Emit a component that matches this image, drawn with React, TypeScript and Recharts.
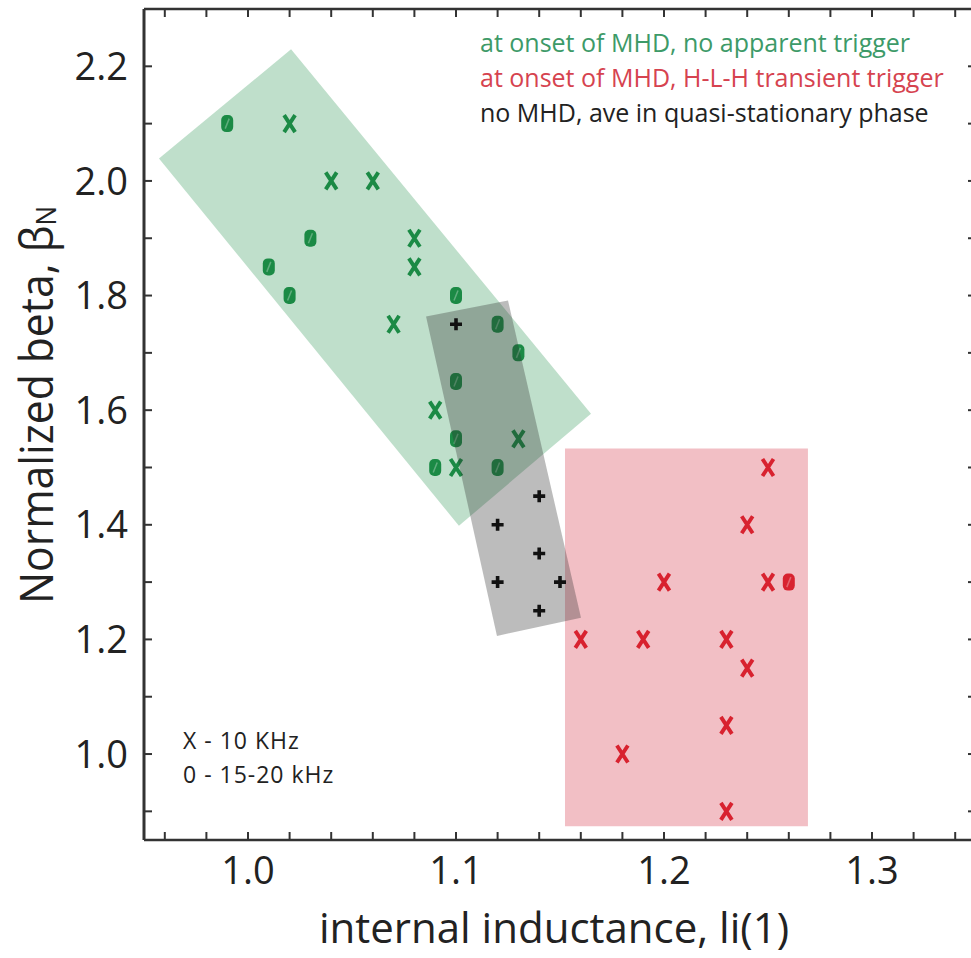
import React from 'react';
import { ScatterChart, Scatter, XAxis, YAxis } from 'recharts';

const FONT = '"Open Sans", "Noto Sans", sans-serif';

// ---- data ----
const greenX = [
  { x: 1.02, y: 2.1 }, { x: 1.04, y: 2.0 }, { x: 1.06, y: 2.0 }, { x: 1.08, y: 1.9 },
  { x: 1.08, y: 1.85 }, { x: 1.07, y: 1.75 }, { x: 1.09, y: 1.6 }, { x: 1.13, y: 1.55 },
  { x: 1.10, y: 1.5 },
];
const greenO = [
  { x: 0.99, y: 2.1 }, { x: 1.03, y: 1.9 }, { x: 1.01, y: 1.85 }, { x: 1.02, y: 1.8 },
  { x: 1.10, y: 1.8 }, { x: 1.12, y: 1.75 }, { x: 1.13, y: 1.7 }, { x: 1.10, y: 1.65 },
  { x: 1.10, y: 1.55 }, { x: 1.09, y: 1.5 }, { x: 1.12, y: 1.5 },
];
const blackPlus = [
  { x: 1.10, y: 1.75 }, { x: 1.14, y: 1.45 }, { x: 1.12, y: 1.4 }, { x: 1.14, y: 1.35 },
  { x: 1.12, y: 1.3 }, { x: 1.15, y: 1.3 }, { x: 1.14, y: 1.25 },
];
const redX = [
  { x: 1.16, y: 1.2 }, { x: 1.19, y: 1.2 }, { x: 1.23, y: 1.2 }, { x: 1.25, y: 1.5 },
  { x: 1.24, y: 1.4 }, { x: 1.20, y: 1.3 }, { x: 1.25, y: 1.3 }, { x: 1.24, y: 1.15 },
  { x: 1.23, y: 1.05 }, { x: 1.18, y: 1.0 }, { x: 1.23, y: 0.9 },
];
const redO = [{ x: 1.26, y: 1.3 }];

const greenRegion = [
  { x: 1.0207, y: 2.2297 }, { x: 1.1649, y: 1.5939 }, { x: 1.1014, y: 1.3983 }, { x: 0.9572, y: 2.0393 },
];
const grayRegion = [
  { x: 1.0856, y: 1.7633 }, { x: 1.125, y: 1.7913 }, { x: 1.1601, y: 1.2376 }, { x: 1.1197, y: 1.2061 },
];
const redRegion = [
  { x: 1.1524, y: 1.533 }, { x: 1.2692, y: 1.533 }, { x: 1.2692, y: 0.874 }, { x: 1.1524, y: 0.874 },
];

const xTicks = [0.96, 0.98, 1.0, 1.02, 1.04, 1.06, 1.08, 1.1, 1.12, 1.14, 1.16, 1.18, 1.2, 1.22, 1.24, 1.26, 1.28, 1.3, 1.32, 1.34];
const xLabelTicks = ['1.0', '1.1', '1.2', '1.3'];
const yTicks = [0.9, 1.0, 1.1, 1.2, 1.3, 1.4, 1.5, 1.6, 1.7, 1.8, 1.9, 2.0, 2.1, 2.2];
const yLabelTicks = ['1.0', '1.2', '1.4', '1.6', '1.8', '2.0', '2.2'];

const legendLines = [
  { text: 'at onset of MHD, no apparent trigger', color: '#3d9a68' },
  { text: 'at onset of MHD, H-L-H transient trigger', color: '#d6434f' },
  { text: 'no MHD, ave in quasi-stationary phase', color: '#222222' },
];
const noteLines = ['X - 10 KHz', '0 - 15-20 kHz'];

const GREEN = '#1b8a45';
const RED = '#d8222f';

// ---- shapes ----
const xMark = (color: string) => (p: any) => {
  const { cx, cy } = p;
  return (
    <path
      d={`M${cx - 5.5},${cy - 8.5}L${cx + 5.5},${cy + 8.5}M${cx + 5.5},${cy - 8.5}L${cx - 5.5},${cy + 8.5}`}
      stroke={color}
      strokeWidth={3.9}
      fill="none"
    />
  );
};
const oMark = (color: string) => (p: any) => {
  const { cx, cy } = p;
  return (
    <g>
      <rect x={cx - 6} y={cy - 8.5} width={12} height={17} rx={5} fill={color} />
      <line x1={cx + 2} y1={cy - 5} x2={cx - 2} y2={cy + 5} stroke="#ffffff" strokeOpacity={0.3} strokeWidth={1.5} />
    </g>
  );
};
const plusMark = (p: any) => {
  const { cx, cy } = p;
  return (
    <path d={`M${cx - 6},${cy}L${cx + 6},${cy}M${cx},${cy - 6}L${cx},${cy + 6}`} stroke="#111" strokeWidth={3.6} fill="none" />
  );
};
const noShape = () => <g />;
const regionLine = (fill: string, opacity: number) => (p: any) => (
  <polygon
    points={(p.points || []).map((q: any) => `${q.x},${q.y}`).join(' ')}
    fill={fill}
    fillOpacity={opacity}
    stroke="none"
  />
);

const BottomTick = (props: any) => {
  const { x, y, payload } = props;
  const v = Number(payload.value);
  if (Math.abs(v * 10 - Math.round(v * 10)) > 1e-6) return <g />;
  const label = v.toFixed(1);
  if (!xLabelTicks.includes(label)) return <g />;
  return (
    <text x={x} y={y} dy="0.71em" textAnchor="middle" fontSize={38} fill="#222" fontFamily={FONT}>
      {label}
    </text>
  );
};
const LeftTick = (props: any) => {
  const { x, y, payload } = props;
  const label = Number(payload.value).toFixed(1);
  if (!yLabelTicks.includes(label)) return <g />;
  return (
    <text x={x} y={y} dy="0.36em" textAnchor="end" fontSize={38} fill="#222" fontFamily={FONT}>
      {label}
    </text>
  );
};
const Empty = () => <g />;

const YTitle = () => {
  const cx = 53;
  const cy = 405;
  return (
    <text
      x={cx}
      y={cy}
      transform={`rotate(-90 ${cx} ${cy})`}
      textAnchor="middle"
      fontSize={46}
      fill="#222"
      fontFamily={FONT}
      textLength={398}
      lengthAdjust="spacingAndGlyphs"
    >
      Normalized beta, β<tspan fontSize={28} dy={3}>N</tspan>
    </text>
  );
};
const XTitle = () => (
  <text x={554} y={943} textAnchor="middle" fontSize={42} fill="#222" fontFamily={FONT}>
    internal inductance, li(1)
  </text>
);

export default function App() {
  return (
    <div style={{ position: 'fixed', left: 0, top: 0, width: 971, height: 958, overflow: 'hidden', background: '#fff' }}>
      <ScatterChart width={1000} height={958} margin={{ top: 8, right: 23, bottom: 0, left: 0 }}>
        <XAxis
          xAxisId={0}
          dataKey="x"
          type="number"
          domain={[0.95, 1.35]}
          allowDataOverflow
          ticks={xTicks}
          interval={0}
          tick={BottomTick}
          tickSize={-8}
          tickMargin={25}
          height={118}
          axisLine={{ stroke: '#333', strokeWidth: 2.5 }}
          tickLine={{ stroke: '#333', strokeWidth: 2 }}
          label={<XTitle />}
        />
        <XAxis
          xAxisId="top"
          orientation="top"
          dataKey="x"
          type="number"
          domain={[0.95, 1.35]}
          allowDataOverflow
          ticks={xTicks}
          interval={0}
          tick={Empty}
          tickSize={-8}
          height={1}
          axisLine={{ stroke: '#333', strokeWidth: 2.5 }}
          tickLine={{ stroke: '#333', strokeWidth: 2 }}
        />
        <YAxis
          yAxisId={0}
          dataKey="y"
          type="number"
          domain={[0.85, 2.3]}
          allowDataOverflow
          ticks={yTicks}
          interval={0}
          tick={LeftTick}
          tickSize={-8}
          tickMargin={24}
          width={144}
          axisLine={{ stroke: '#333', strokeWidth: 3 }}
          tickLine={{ stroke: '#333', strokeWidth: 2 }}
          label={<YTitle />}
        />
        <YAxis
          yAxisId="right"
          orientation="right"
          dataKey="y"
          type="number"
          domain={[0.85, 2.3]}
          allowDataOverflow
          ticks={yTicks}
          interval={0}
          tick={Empty}
          tickSize={-8}
          width={1}
          axisLine={{ stroke: '#333', strokeWidth: 2.5 }}
          tickLine={{ stroke: '#333', strokeWidth: 2 }}
        />
        <Scatter data={redRegion} shape={noShape} line={regionLine('#f2bfc5', 1)} isAnimationActive={false} />
        <Scatter data={greenRegion} shape={noShape} line={regionLine('#bfdfcb', 1)} isAnimationActive={false} />
        <Scatter data={greenX} shape={xMark(GREEN)} isAnimationActive={false} />
        <Scatter data={greenO} shape={oMark(GREEN)} isAnimationActive={false} />
        <Scatter data={redX} shape={xMark(RED)} isAnimationActive={false} />
        <Scatter data={redO} shape={oMark(RED)} isAnimationActive={false} />
        <Scatter data={grayRegion} shape={noShape} line={regionLine('#2e2e2e', 0.32)} isAnimationActive={false} />
        <Scatter data={blackPlus} shape={plusMark} isAnimationActive={false} />
      </ScatterChart>
      <div style={{ position: 'absolute', left: 480, top: 25, fontFamily: FONT, fontSize: 25, lineHeight: '35px' }}>
        {legendLines.map((l) => (
          <div key={l.text} style={{ color: l.color, whiteSpace: 'nowrap' }}>{l.text}</div>
        ))}
      </div>
      <div style={{ position: 'absolute', left: 183, top: 723, fontFamily: FONT, fontSize: 23, letterSpacing: 1, lineHeight: '34px', color: '#222' }}>
        {noteLines.map((t) => (
          <div key={t} style={{ whiteSpace: 'nowrap' }}>{t}</div>
        ))}
      </div>
    </div>
  );
}
